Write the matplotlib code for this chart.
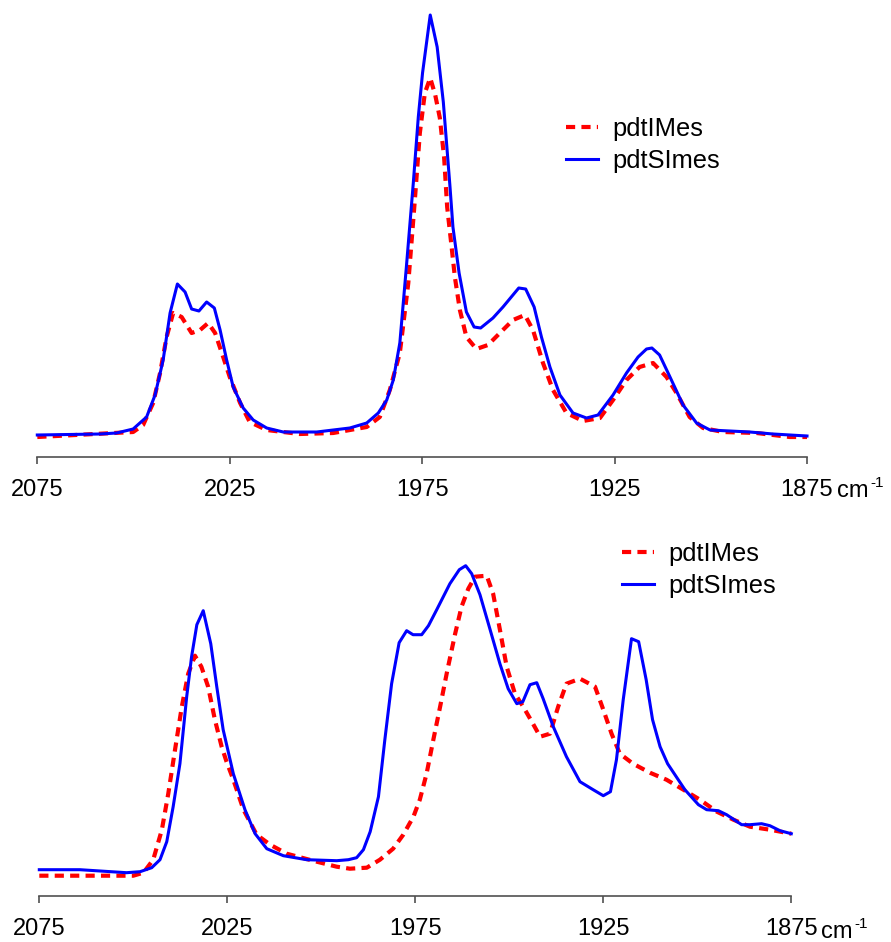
import matplotlib
matplotlib.use("Agg")
import matplotlib.pyplot as plt
from matplotlib import transforms

plt.rcParams['font.family'] = ['Liberation Sans', 'DejaVu Sans']

# ---------------- data (arbitrary absorbance units) ----------------
series_names = ["pdtIMes", "pdtSImes"]
x_ticks = [2075, 2025, 1975, 1925, 1875]
x_ticklabels = ["2075", "2025", "1975", "1925", "1875"]
unit_text = "cm"
unit_exp = "-1"

# top panel
top_imes_wn = [2075, 2050.1, 2047.5, 2044.9, 2043.1, 2041.4, 2039.7, 2037.5, 2034.9, 2032.7,
               2030.6, 2028.8, 2026.7, 2025.0, 2022.3, 2019.8, 2015.4, 2006.8, 1998.1, 1989.4,
               1986.0, 1983.4, 1980.8, 1978.6, 1976.9, 1975.6, 1974.3, 1972.9, 1971.6, 1970.4,
               1969.3, 1968.5, 1967.4, 1966.5, 1965.2, 1963.5, 1960.9, 1957.9, 1954.8, 1951.4,
               1948.3, 1946.2, 1943.6, 1941.0, 1937.5, 1933.2, 1928.8, 1925.4, 1921.9, 1918.5,
               1915.0, 1911.5, 1908.9, 1905.5, 1902.0, 1896.8, 1888.1, 1879.5, 1875.0]
top_imes_abs = [20, 25, 32, 54, 84, 120, 144, 140, 124, 127,
                134, 124, 100, 80, 54, 35, 27, 23, 24, 30,
                40, 67, 104, 174, 257, 324, 364, 379, 362, 339,
                300, 250, 212, 180, 147, 120, 108, 112, 124, 137,
                142, 127, 94, 67, 44, 36, 39, 57, 77, 90,
                94, 80, 64, 40, 29, 25, 24, 20, 20]

top_simes_wn = [2075, 2058.7, 2054.4, 2050.1, 2046.6, 2044.4, 2042.3, 2040.5, 2038.6, 2036.6,
                2034.9, 2033.0, 2031.0, 2029.0, 2027.5, 2025.8, 2024.1, 2021.5, 2018.9, 2015.4,
                2011.1, 2002.4, 1993.8, 1989.4, 1986.4, 1984.2, 1982.5, 1980.8, 1979.1, 1977.3,
                1976.0, 1974.9, 1972.9, 1971.1, 1969.5, 1967.8, 1967.0, 1965.4, 1963.5, 1961.5,
                1959.8, 1956.6, 1954.0, 1949.9, 1948.1, 1945.9, 1944.0, 1941.8, 1939.2, 1935.8,
                1932.3, 1929.3, 1925.4, 1921.9, 1918.9, 1916.7, 1915.3, 1913.3, 1910.6, 1907.2,
                1903.7, 1900.2, 1889.9, 1883.8, 1875.0]
top_simes_abs = [22, 23, 24, 28, 40, 62, 97, 144, 173, 165,
                 148, 146, 155, 149, 127, 97, 70, 49, 37, 29,
                 25, 25, 29, 34, 44, 57, 77, 114, 190, 274,
                 340, 384, 442, 410, 355, 272, 230, 184, 145, 130,
                 129, 139, 150, 169, 168, 150, 120, 90, 62, 44,
                 39, 42, 62, 84, 100, 108, 109, 102, 80, 52,
                 34, 27, 25, 23, 21]

# bottom panel
bot_imes_wn = [2075, 2050.0, 2047.3, 2044.7, 2042.4, 2040.7, 2038.9, 2037.1, 2035.4, 2033.6,
               2031.9, 2030.1, 2028.3, 2026.5, 2025.2, 2023.4, 2020.7, 2017.2, 2013.6, 2009.2,
               2001.2, 1995.9, 1992.4, 1987.9, 1984.4, 1980.9, 1978.2, 1975.5, 1973.8, 1972.0,
               1970.2, 1968.4, 1966.5, 1964.4, 1962.7, 1960.9, 1959.1, 1956.0, 1954.3, 1952.5,
               1950.7, 1948.5, 1946.3, 1944.0, 1941.8, 1939.2, 1937.0, 1934.8, 1931.2, 1927.2,
               1925.0, 1922.8, 1920.6, 1917.1, 1912.6, 1908.2, 1903.7, 1899.3, 1894.8, 1890.4,
               1886.0, 1880.7, 1875.0]
bot_imes_abs = [20, 20, 23, 36, 66, 102, 146, 189, 222, 240,
                229, 209, 176, 149, 134, 116, 86, 61, 51, 42,
                34, 29, 27, 28, 36, 47, 61, 79, 96, 122,
                156, 189, 225, 262, 289, 307, 319, 320, 302, 266,
                229, 202, 189, 174, 159, 162, 189, 212, 217, 209,
                186, 162, 142, 132, 123, 116, 106, 96, 84, 76,
                69, 66, 62]

bot_simes_wn = [2075, 2064.2, 2051.8, 2048.2, 2045.1, 2042.9, 2041.1, 2039.4, 2037.6, 2035.8,
                2034.5, 2033.1, 2031.4, 2029.4, 2027.8, 2026.1, 2023.4, 2020.3, 2017.6, 2014.5,
                2010.1, 2003.9, 1995.9, 1992.8, 1990.6, 1988.8, 1987.0, 1984.8, 1983.1, 1981.3,
                1979.3, 1977.3, 1975.6, 1973.3, 1971.5, 1969.3, 1965.8, 1963.3, 1961.6, 1960.0,
                1957.8, 1955.1, 1952.5, 1950.3, 1948.0, 1946.4, 1944.5, 1942.7, 1941.0, 1938.3,
                1934.8, 1931.2, 1927.7, 1925.0, 1923.1, 1921.5, 1919.7, 1917.5, 1915.6, 1913.6,
                1911.9, 1909.9, 1907.9, 1903.3, 1899.7, 1897.5, 1894.4, 1892.2, 1888.2, 1886.0,
                1882.9, 1880.7, 1878.0, 1875.0]
bot_simes_abs = [26, 26, 23, 24, 28, 36, 54, 89, 132, 199,
                 239, 271, 285, 252, 209, 166, 122, 86, 62, 47,
                 40, 36, 35, 36, 38, 46, 64, 99, 156, 212,
                 253, 265, 261, 261, 270, 286, 312, 326, 330, 322,
                 301, 266, 232, 207, 192, 194, 211, 213, 197, 169,
                 139, 114, 106, 100, 104, 136, 196, 257, 254, 216,
                 176, 149, 132, 106, 91, 86, 85, 81, 71, 71,
                 72, 70, 65, 62]

# ---------------- figure ----------------
W, H = 891, 942
fig = plt.figure(figsize=(W / 100, H / 100), dpi=100)

red_kw = dict(color='#FF0000', lw=3.0, dashes=(2.2, 1.5), solid_capstyle='butt')
blue_kw = dict(color='#0000FF', lw=2.2)
axis_col = '#505050'
tick_fs = 17
leg_fs = 18.4
exp_fs = 11


def make_panel(rect, ymax, imes_wn, imes_abs, simes_wn, simes_abs, legend_xy,
               base_off, cm_dx, exp_dx):
    ax = fig.add_axes(rect)
    l1, = ax.plot(imes_wn, imes_abs, label=series_names[0], clip_on=False, **red_kw)
    l2, = ax.plot(simes_wn, simes_abs, label=series_names[1], clip_on=False, **blue_kw)
    ax.set_xlim(2075, 1875)
    ax.set_ylim(0, ymax)
    for s in ['top', 'left', 'right']:
        ax.spines[s].set_visible(False)
    ax.spines['bottom'].set_color(axis_col)
    ax.spines['bottom'].set_linewidth(1.2)
    ax.set_yticks([])
    ax.set_xticks(x_ticks)
    ax.set_xticklabels(x_ticklabels)
    ax.tick_params(axis='x', direction='out', length=5, width=1.2, color=axis_col,
                   labelsize=tick_fs, pad=10.8, labelcolor='black')
    ax.legend(handles=[l1, l2], loc='center left',
              bbox_to_anchor=(legend_xy[0] / W, 1 - legend_xy[1] / H),
              bbox_transform=fig.transFigure, frameon=False, borderpad=0,
              borderaxespad=0, handlelength=1.25, handletextpad=0.58,
              labelspacing=0.3, fontsize=leg_fs)
    xt = ax.get_xaxis_transform()
    t1 = transforms.offset_copy(xt, fig=fig, x=cm_dx, y=-base_off, units='dots')
    ax.text(1875, 0, unit_text, transform=t1, ha='left', va='baseline',
            fontsize=tick_fs, clip_on=False)
    t2 = transforms.offset_copy(xt, fig=fig, x=exp_dx, y=-base_off + 10, units='dots')
    ax.text(1875, 0, unit_exp, transform=t2, ha='left', va='baseline',
            fontsize=exp_fs, clip_on=False)
    ax.patch.set_alpha(0)
    return ax


make_panel([37.3 / W, (H - 457) / H, (807 - 37.3) / W, 452 / H], 452,
           top_imes_wn, top_imes_abs, top_simes_wn, top_simes_abs, (566, 145),
           40, 30, 63)
make_panel([39.3 / W, (H - 895.7) / H, (791.3 - 39.3) / W, 395 / H], 395,
           bot_imes_wn, bot_imes_abs, bot_simes_wn, bot_simes_abs, (622, 570),
           42, 30, 63)

fig.savefig('out.png', dpi=100)
